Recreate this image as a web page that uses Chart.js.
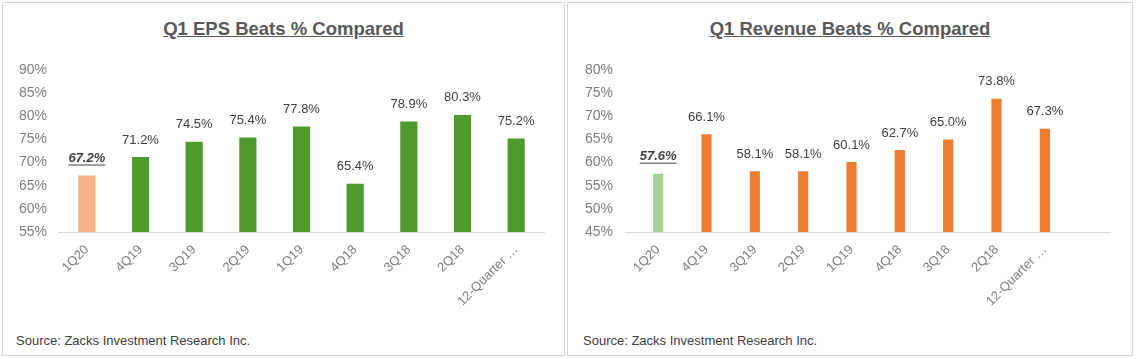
<!DOCTYPE html>
<html><head><meta charset="utf-8">
<script src="https://cdn.jsdelivr.net/npm/chart.js@4"></script>
<style>
body{margin:0;background:#fff;width:1137px;height:359px;overflow:hidden;font-family:"Liberation Sans",Arial,sans-serif;position:relative;}
.panel{position:absolute;border:1px solid #d9d9d9;box-sizing:border-box;background:#fff;}
.title{position:absolute;text-align:center;font-weight:bold;font-size:18.5px;color:#595959;text-decoration:underline;white-space:nowrap;}
.src{position:absolute;font-size:13px;color:#404040;white-space:nowrap;}
canvas{position:absolute;}
</style></head><body>
<div class="panel" style="left:2px;top:2px;width:563px;height:354px;"></div>
<div class="panel" style="left:567px;top:2px;width:566px;height:354px;"></div>
<div class="title" style="left:2px;width:563px;top:18px;">Q1 EPS Beats % Compared</div>
<div class="title" style="left:567px;width:566px;top:18px;">Q1 Revenue Beats % Compared</div>
<div class="src" style="left:16px;top:333px;">Source: Zacks Investment Research Inc.</div>
<div class="src" style="left:583px;top:333px;">Source: Zacks Investment Research Inc.</div>
<canvas id="c1" width="560" height="325" style="left:3px;top:3px;"></canvas>
<canvas id="c2" width="562" height="325" style="left:568px;top:3px;"></canvas>
<script>
const categories = ['1Q20','4Q19','3Q19','2Q19','1Q19','4Q18','3Q18','2Q18','12-Quarter …'];
const epsBeats = [67.2, 71.2, 74.5, 75.4, 77.8, 65.4, 78.9, 80.3, 75.2];
const revenueBeats = [57.6, 66.1, 58.1, 58.1, 60.1, 62.7, 65.0, 73.8, 67.3];
const epsTicks = [55, 60, 65, 70, 75, 80, 85, 90];
const revTicks = [45, 50, 55, 60, 65, 70, 75, 80];
const epsColors = ['#F4B183','#4E9A2D','#4E9A2D','#4E9A2D','#4E9A2D','#4E9A2D','#4E9A2D','#4E9A2D','#4E9A2D'];
const revColors = ['#A9D18E','#ED7D31','#ED7D31','#ED7D31','#ED7D31','#ED7D31','#ED7D31','#ED7D31','#ED7D31'];

const FONT = '"Liberation Sans", Arial, sans-serif';

const labelPlugin = {
  id: 'barLabels',
  afterDatasetsDraw(chart) {
    const ctx = chart.ctx;
    const meta = chart.getDatasetMeta(0);
    const data = chart.data.datasets[0].data;
    ctx.save();
    ctx.fillStyle = '#404040';
    ctx.textAlign = 'center';
    ctx.textBaseline = 'middle';
    meta.data.forEach((bar, i) => {
      const txt = data[i].toFixed(1) + '%';
      const y = bar.y - 17;
      if (i === 0) {
        ctx.font = 'italic bold 13px ' + FONT;
        ctx.fillText(txt, bar.x, y);
        const w = ctx.measureText(txt).width;
        ctx.fillRect(bar.x - w / 2, y + 6, w, 1);
      } else {
        ctx.font = '13px ' + FONT;
        ctx.fillText(txt, bar.x, y);
      }
    });
    ctx.restore();
  }
};

const baselinePlugin = {
  id: 'baseline',
  beforeDatasetsDraw(chart, args, opts) {
    const a = chart.chartArea;
    const ctx = chart.ctx;
    ctx.save();
    ctx.strokeStyle = '#d9d9d9';
    ctx.lineWidth = 1;
    ctx.beginPath();
    ctx.moveTo(a.left - opts.extL, Math.round(a.bottom) + 0.5);
    ctx.lineTo(a.right + opts.extR, Math.round(a.bottom) + 0.5);
    ctx.stroke();
    ctx.restore();
  }
};

function makeChart(id, values, colors, ticks, barPct, yWidth, yPad, rightPad, extL, extR) {
  return new Chart(document.getElementById(id), {
    type: 'bar',
    data: {
      labels: categories,
      datasets: [{ data: values, backgroundColor: colors, barPercentage: barPct, categoryPercentage: 1 }]
    },
    options: {
      responsive: false,
      animation: false,
      devicePixelRatio: 1,
      layout: { padding: { top: 67, left: 0, right: rightPad, bottom: 0 } },
      plugins: { legend: { display: false }, tooltip: { enabled: false }, title: { display: false },
                 baseline: { extL: extL, extR: extR } },
      scales: {
        x: {
          grid: { display: false, drawTicks: false },
          border: { display: false },
          ticks: { minRotation: 45, maxRotation: 45, autoSkip: false, color: '#7f7f7f', padding: 10,
                   font: { family: FONT, size: 13 } },
          afterFit(s) { s.height = 96; }
        },
        y: {
          min: ticks[0], max: ticks[ticks.length - 1],
          afterBuildTicks(s) { s.ticks = ticks.map(v => ({ value: v })); },
          grid: { display: false, drawTicks: false },
          border: { display: false },
          ticks: { color: '#7f7f7f', padding: yPad, font: { family: FONT, size: 14 },
                   callback: v => v + '%' },
          afterFit(s) { s.width = yWidth; }
        }
      }
    },
    plugins: [baselinePlugin, labelPlugin]
  });
}

makeChart('c1', epsBeats, epsColors, epsTicks, 0.32, 57, 13, 20, 2, 2);
makeChart('c2', revenueBeats, revColors, revTicks, 0.21, 66, 21, 61, 9, 42);
</script>
</body></html>
